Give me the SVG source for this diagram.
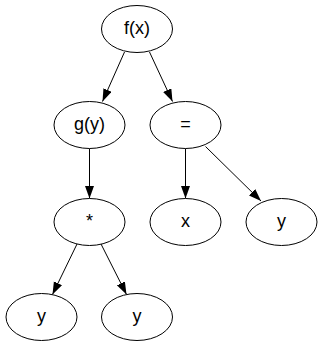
<svg xmlns="http://www.w3.org/2000/svg" width="323" height="347" viewBox="0 0 323 347">
<style>
.node ellipse{fill:#fff;stroke:#000;stroke-width:1}
.node text{font-family:"Liberation Sans",Arial,sans-serif;font-size:18px;text-anchor:middle;fill:#000}
.edges line{stroke:#000;stroke-width:1}
</style>
<defs>
<marker id="ah" markerUnits="userSpaceOnUse" markerWidth="14" markerHeight="10" refX="12.5" refY="4.5" orient="auto">
<path d="M0,0 L12.5,4.5 L0,9 z" fill="#000"/>
</marker>
</defs>
<rect width="323" height="347" fill="#fff"/>
<g id="edges" class="edges">
<line x1="124.5" y1="52" x2="102.5" y2="101.5" marker-end="url(#ah)"/>
<line x1="149.5" y1="52" x2="172.5" y2="101.5" marker-end="url(#ah)"/>
<line x1="89.5" y1="148.5" x2="89.5" y2="198.5" marker-end="url(#ah)"/>
<line x1="185.5" y1="148.5" x2="185.5" y2="198.5" marker-end="url(#ah)"/>
<line x1="205.5" y1="146.5" x2="261" y2="201" marker-end="url(#ah)"/>
<line x1="77.5" y1="243" x2="52.5" y2="294.5" marker-end="url(#ah)"/>
<line x1="100.5" y1="243" x2="126.5" y2="294.5" marker-end="url(#ah)"/>
</g>
<g id="n_fx" class="node"><ellipse cx="137" cy="29" rx="35.5" ry="23.5"/><text x="137" y="34">f(x)</text></g>
<g id="n_gy" class="node"><ellipse cx="89.5" cy="125" rx="35.5" ry="23.5"/><text x="89.5" y="130">g(y)</text></g>
<g id="n_eq" class="node"><ellipse cx="185.5" cy="125" rx="35.5" ry="23.5"/><text x="185.5" y="130">=</text></g>
<g id="n_mul" class="node"><ellipse cx="89.5" cy="222" rx="35.5" ry="23.5"/><text x="89.5" y="227">*</text></g>
<g id="n_x" class="node"><ellipse cx="185.5" cy="222" rx="35.5" ry="23.5"/><text x="185.5" y="227">x</text></g>
<g id="n_y1" class="node"><ellipse cx="281.5" cy="222" rx="35.5" ry="23.5"/><text x="281.5" y="227">y</text></g>
<g id="n_y2" class="node"><ellipse cx="41.5" cy="317" rx="35.5" ry="23.5"/><text x="41.5" y="322">y</text></g>
<g id="n_y3" class="node"><ellipse cx="137" cy="317" rx="35.5" ry="23.5"/><text x="137" y="322">y</text></g>
</svg>
